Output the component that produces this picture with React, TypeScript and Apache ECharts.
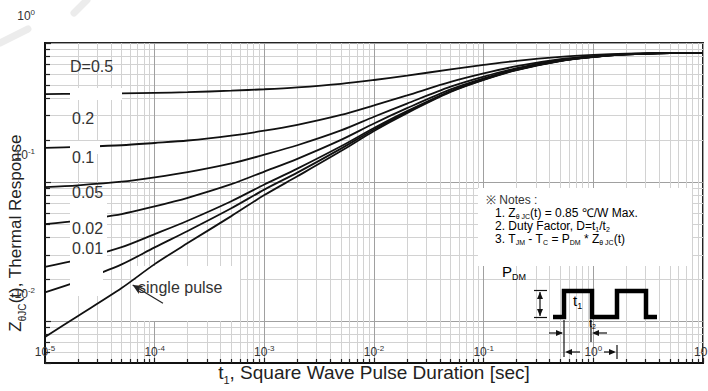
import React, { useEffect, useRef } from 'react';
import * as echarts from 'echarts';

// pulse duration t1 [s]
const pulseTimes = [1e-5, 2e-5, 5e-5, 1e-4, 2e-4, 5e-4, 1e-3, 2e-3, 5e-3, 1e-2, 2e-2, 5e-2, 0.1, 0.2, 0.5, 1, 2, 5, 10];
// thermal response Z(t) [°C/W]
const zD05 = [0.429, 0.431, 0.434, 0.438, 0.443, 0.454, 0.465, 0.48, 0.509, 0.542, 0.582, 0.647, 0.696, 0.745, 0.796, 0.822, 0.839, 0.849, 0.85];
const zD02 = [0.176, 0.179, 0.184, 0.191, 0.199, 0.216, 0.234, 0.258, 0.304, 0.356, 0.42, 0.525, 0.604, 0.681, 0.764, 0.804, 0.832, 0.848, 0.85];
const zD01 = [0.0919, 0.0948, 0.1006, 0.1081, 0.1178, 0.1362, 0.1575, 0.184, 0.235, 0.295, 0.367, 0.485, 0.573, 0.66, 0.753, 0.799, 0.829, 0.847, 0.85];
const zD005 = [0.0498, 0.0529, 0.0589, 0.0669, 0.0771, 0.0966, 0.119, 0.147, 0.201, 0.264, 0.34, 0.464, 0.557, 0.65, 0.747, 0.796, 0.828, 0.847, 0.85];
const zD002 = [0.0246, 0.0277, 0.034, 0.0422, 0.0527, 0.0728, 0.096, 0.125, 0.181, 0.245, 0.324, 0.452, 0.548, 0.643, 0.744, 0.794, 0.828, 0.847, 0.85];
const zD001 = [0.0161, 0.0193, 0.0256, 0.0339, 0.0445, 0.0648, 0.0883, 0.117, 0.174, 0.239, 0.318, 0.448, 0.545, 0.641, 0.743, 0.794, 0.827, 0.847, 0.85];
const zSingle = [0.0077, 0.0109, 0.0173, 0.0257, 0.0364, 0.0569, 0.0806, 0.11, 0.167, 0.233, 0.313, 0.444, 0.542, 0.639, 0.742, 0.793, 0.827, 0.847, 0.85];

const seriesNames = ['D=0.5', '0.2', '0.1', '0.05', '0.02', '0.01', 'single pulse'];
const seriesValues = [zD05, zD02, zD01, zD005, zD002, zD001, zSingle];

// axis ranges
const xMin = 1e-5;
const xMax = 10;
const yMin = 0.005;
const yMax = 1;

// arrow pointing at the single pulse curve: [t, Z]
const arrowTail = [1.19e-4, 0.01346];
const arrowTip = [6.3e-5, 0.0182];

const FONT = "'Liberation Sans', Arial, Helvetica, sans-serif";

const decadeLabel = (v: number) => {
  const e = Math.log10(v);
  const r = Math.round(e);
  if (Math.abs(e - r) > 1e-6) return '';
  return `{b|10}{s|${r}}`;
};

const tickRich = {
  b: { fontSize: 12, lineHeight: 12, color: '#333', fontFamily: FONT, verticalAlign: 'bottom' },
  s: { fontSize: 8, lineHeight: 8, color: '#333', fontFamily: FONT, verticalAlign: 'bottom', padding: [0, 0, 6, 0] },
};

const xNameRich = {
  n: { fontSize: 19, lineHeight: 19, color: '#222', fontFamily: FONT, verticalAlign: 'bottom', padding: [0, 0, 3, 0] },
  sub: { fontSize: 11, lineHeight: 11, color: '#222', fontFamily: FONT, verticalAlign: 'bottom' },
};

const yNameRich = {
  n: { fontSize: 17, lineHeight: 17, color: '#222', fontFamily: FONT, verticalAlign: 'bottom', padding: [0, 0, 3, 0] },
  sub: { fontSize: 10, lineHeight: 10, color: '#222', fontFamily: FONT, verticalAlign: 'bottom' },
};

const noteRich = {
  n: { fontSize: 12, lineHeight: 11, color: '#333', fontFamily: FONT, verticalAlign: 'bottom', padding: [0, 0, 1, 0] },
  sub: { fontSize: 7, lineHeight: 7, color: '#333', fontFamily: FONT, verticalAlign: 'bottom' },
};

const diagRich = {
  n: { fontSize: 15, lineHeight: 15, color: '#111', fontFamily: FONT, verticalAlign: 'bottom', padding: [0, 0, 3, 0] },
  sub: { fontSize: 9, lineHeight: 9, color: '#111', fontFamily: FONT, verticalAlign: 'bottom' },
};

function App() {
  const ref = useRef<HTMLDivElement>(null);
  useEffect(() => {
    if (!ref.current) return;
    const chart = echarts.init(ref.current, null, { renderer: 'svg' });

    const series: any[] = seriesValues.map((vals, i) => ({
      name: seriesNames[i],
      type: 'line',
      data: pulseTimes.map((t, j) => [t, vals[j]]),
      smooth: 0.3,
      showSymbol: false,
      silent: true,
      z: 2,
      lineStyle: { color: '#111', width: 1.8 },
      markLine:
        i === seriesValues.length - 1
          ? {
              silent: true,
              symbol: ['none', 'arrow'],
              symbolSize: [7, 10],
              label: { show: false },
              lineStyle: { color: '#222', width: 1.2, type: 'solid' },
              data: [[{ coord: arrowTail }, { coord: arrowTip }]],
            }
          : undefined,
    }));

    const white = (x: number, y: number, w: number, h: number, z: number) => ({
      type: 'rect',
      z,
      silent: true,
      shape: { x, y, width: w, height: h },
      style: { fill: '#fff' },
    });
    const txt = (x: number, y: number, text: string, size = 16, extra: any = {}) => ({
      type: 'text',
      z: 6,
      silent: true,
      x,
      y,
      style: { text, fill: '#333', font: `${size}px ${FONT}`, verticalAlign: 'middle', ...extra },
    });
    const ln = (x1: number, y1: number, x2: number, y2: number, w = 1.2, color = '#111', z = 6) => ({
      type: 'line',
      z,
      silent: true,
      shape: { x1, y1, x2, y2 },
      style: { stroke: color, lineWidth: w },
    });
    const tri = (pts: number[][]) => ({
      type: 'polygon',
      z: 6,
      silent: true,
      shape: { points: pts },
      style: { fill: '#111' },
    });

    const graphic: any[] = [
      // watermark strokes
      { type: 'line', z: 0, silent: true, shape: { x1: 0, y1: 43, x2: 28, y2: 29 }, style: { stroke: '#ececec', lineWidth: 7, lineCap: 'round' } },
      { type: 'line', z: 0, silent: true, shape: { x1: 74, y1: 13, x2: 87, y2: 0 }, style: { stroke: '#ececec', lineWidth: 7, lineCap: 'round' } },
      // backgrounds hiding grid
      white(478, 188, 214, 78, 1),
      white(136, 266, 104, 55, 1),
      // gaps in curves behind labels
      white(70, 88, 52, 12, 5),
      white(70, 141, 30, 13, 5),
      white(70, 197, 37, 66, 5),
      white(70, 263, 33, 33, 5),
      // curve labels
      txt(70, 66, 'D=0.5'),
      txt(72, 118, '0.2'),
      txt(72, 157, '0.1'),
      txt(72, 192, '0.05'),
      txt(72, 228, '0.02'),
      txt(72, 248, '0.01'),
      txt(138, 287, 'single pulse'),
      // notes
      txt(486, 200, '※ Notes :', 12, { fill: '#333' }),
      {
        type: 'text', z: 6, silent: true, x: 495, y: 214,
        style: { text: '{n|1. Z}{sub|θ JC}{n|(t) = 0.85 ℃/W Max.}', rich: noteRich, verticalAlign: 'middle' },
      },
      {
        type: 'text', z: 6, silent: true, x: 495, y: 227,
        style: { text: '{n|2. Duty Factor, D=t}{sub|1}{n|/t}{sub|2}', rich: noteRich, verticalAlign: 'middle' },
      },
      {
        type: 'text', z: 6, silent: true, x: 495, y: 240,
        style: { text: '{n|3. T}{sub|JM}{n| - T}{sub|C}{n| = P}{sub|DM}{n| * Z}{sub|θ JC}{n|(t)}', rich: noteRich, verticalAlign: 'middle' },
      },
      // P_DM label
      {
        type: 'text', z: 6, silent: true, x: 502, y: 274,
        style: { text: '{n|P}{sub|DM}', rich: diagRich, verticalAlign: 'middle' },
      },
      // pulse waveform
      {
        type: 'polyline', z: 6, silent: true,
        shape: { points: [[553, 317], [564, 317], [564, 291], [592, 291], [592, 317], [617, 317], [617, 291], [646, 291], [646, 317], [657, 317]] },
        style: { stroke: '#000', lineWidth: 4.5, fill: 'none', lineJoin: 'miter' },
      },
      // amplitude dimension
      ln(540, 292, 540, 316),
      ln(534, 290.5, 547, 290.5),
      ln(534, 317.5, 547, 317.5),
      tri([[540, 292], [537, 299], [543, 299]]),
      tri([[540, 316], [537, 309], [543, 309]]),
      // t1 label
      {
        type: 'text', z: 6, silent: true, x: 573, y: 303,
        style: { text: '{n|t}{sub|1}', rich: diagRich, verticalAlign: 'middle' },
      },
      // t1 dimension
      ln(564, 320, 564, 357),
      ln(591, 320, 591, 342),
      ln(549, 333, 562, 333),
      tri([[563, 333], [556, 330], [556, 336]]),
      ln(594, 333, 607, 333),
      tri([[592, 333], [599, 330], [599, 336]]),
      {
        type: 'text', z: 6, silent: true, x: 589, y: 324,
        style: { text: '{n|t}{sub|2}', rich: { n: { ...noteRich.n, fontSize: 11 }, sub: noteRich.sub }, verticalAlign: 'middle' },
      },
      // t2 dimension
      ln(567, 352, 580, 352),
      tri([[565, 352], [572, 349], [572, 355]]),
      ln(604, 352, 614, 352),
      tri([[616, 352], [609, 349], [609, 355]]),
      ln(617, 345, 617, 359),
    ];

    chart.setOption({
      animation: false,
      backgroundColor: '#fff',
      textStyle: { fontFamily: FONT },
      grid: {
        left: 45, top: 43, width: 658, height: 320,
        containLabel: false, outerBoundsMode: 'none',
        show: true, borderColor: '#222', borderWidth: 2, backgroundColor: 'transparent',
      },
      xAxis: {
        type: 'log',
        logBase: 10,
        min: xMin,
        max: xMax,
        splitNumber: 6,
        axisLine: { show: true, lineStyle: { color: '#111', width: 2 } },
        axisTick: { show: true, inside: true, length: 5, lineStyle: { color: '#222', width: 1.2 } },
        minorTick: { show: true, splitNumber: 9, length: 4, lineStyle: { color: '#222', width: 1.2 } },
        splitLine: { show: true, lineStyle: { color: '#a0a0a0', width: 1 } },
        minorSplitLine: { show: true, lineStyle: { color: '#d2d2d2', width: 1 } },
        axisLabel: { inside: true, margin: 5, formatter: decadeLabel, rich: tickRich, showMinLabel: true, showMaxLabel: true },
        name: '{n|t}{sub|1}{n|, Square Wave Pulse Duration [sec]}',
        nameLocation: 'middle',
        nameGap: 3,
        nameMoveOverlap: false,
        nameTextStyle: { rich: xNameRich, verticalAlign: 'top' },
      },
      yAxis: {
        type: 'log',
        logBase: 10,
        min: yMin,
        max: yMax,
        splitNumber: 3,
        axisLine: { show: true, lineStyle: { color: '#111', width: 2 } },
        axisTick: { show: true, inside: true, length: 6, lineStyle: { color: '#222', width: 1.2 } },
        minorTick: { show: true, splitNumber: 9, length: 5, lineStyle: { color: '#222', width: 1.2 } },
        splitLine: { show: true, lineStyle: { color: '#a0a0a0', width: 1 } },
        minorSplitLine: { show: true, lineStyle: { color: '#d2d2d2', width: 1 } },
        axisLabel: { margin: 10, formatter: decadeLabel, rich: tickRich, padding: [0, 0, 54, 0] },
        name: '{n|Z}{sub|θJC}{n|(t), Thermal Response}',
        nameLocation: 'middle',
        nameRotate: 90,
        nameGap: 18,
        nameMoveOverlap: false,
        nameTextStyle: { rich: yNameRich, padding: [0, 60, 0, 0] },
      },
      series,
      graphic,
    });
    return () => chart.dispose();
  }, []);
  return <div ref={ref} style={{ position: 'fixed', left: 0, top: 0, width: 708, height: 391, background: '#fff' }} />;
}

export default App;
